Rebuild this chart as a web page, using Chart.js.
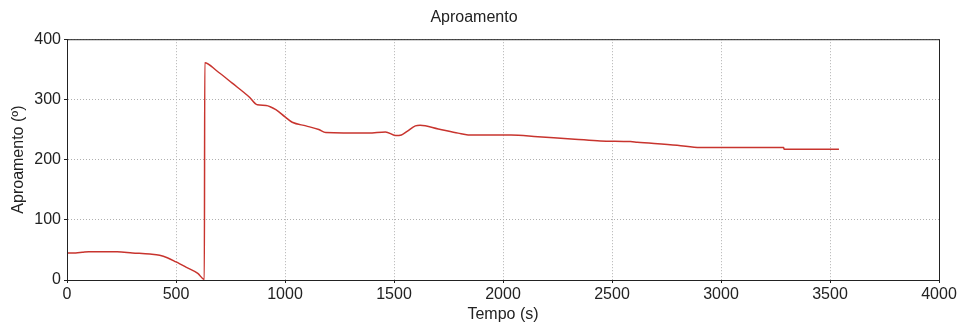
<!DOCTYPE html>
<html>
<head>
<meta charset="utf-8">
<script src="https://cdn.jsdelivr.net/npm/chart.js@4"></script>
<style>
  html, body { margin: 0; padding: 0; background: #fff; }
  #wrap { width: 960px; height: 329px; }
</style>
</head>
<body>
<div id="wrap"><canvas id="aproamento" width="960" height="329"></canvas></div>
<script>
// tempo (s) and aproamento (graus)
var tempo = [0, 40, 70, 100, 230, 300, 380, 425, 460, 500, 548, 600, 630, 632, 685, 758, 836, 873, 913, 958, 1000, 1033, 1096, 1155, 1187, 1383, 1461, 1507, 1534, 1560, 1598, 1620, 1703, 1794, 1840, 2037, 2160, 2329, 2447, 2584, 2616, 2799, 2904, 3287, 3290, 3541];
var aproamento = [45, 45, 46, 47, 47, 45, 43, 41, 37, 30, 21, 11, 1, 361, 348, 327, 304, 291, 290, 283, 271, 262, 256, 250, 245, 244, 246, 240, 241, 247, 256, 257, 251, 244, 241, 241, 238, 234, 231, 230, 229, 224, 220, 220, 217, 217];
var xTicks = [0, 500, 1000, 1500, 2000, 2500, 3000, 3500, 4000];
var yTicks = [0, 100, 200, 300, 400];

var pontos = tempo.map(function (t, i) {
  return { x: t, y: aproamento[i] };
});

// draw the top/right frame like matlab
var framePlugin = {
  id: "frame",
  afterDraw: function (chart) {
    var a = chart.chartArea;
    var ctx = chart.ctx;
    ctx.save();
    ctx.strokeStyle = "#222";
    ctx.lineWidth = 1;
    ctx.strokeRect(a.left + 0.5, a.top + 0.5, a.right - a.left, a.bottom - a.top);
    ctx.restore();
  },
};

var fonte = { family: "'Liberation Sans', Arial, sans-serif", size: 16 };

var ctx = document.getElementById("aproamento").getContext("2d");
var chart = new Chart(ctx, {
  type: "line",
  data: {
    datasets: [
      {
        label: "Aproamento",
        data: pontos,
        borderColor: "#c8342e",
        borderWidth: 1.5,
        pointRadius: 0,
        cubicInterpolationMode: "monotone",
        fill: false,
      },
    ],
  },
  options: {
    responsive: false,
    animation: false,
    layout: { padding: { left: 9, right: 21, top: 0, bottom: 5 } },
    plugins: {
      legend: { display: false },
      tooltip: { enabled: false },
      title: {
        display: true,
        text: "Aproamento",
        color: "#222",
        font: { family: fonte.family, size: 16, weight: "normal" },
        padding: { top: 8, bottom: 12 },
      },
    },
    scales: {
      x: {
        type: "linear",
        min: 0,
        max: 4000,
        afterBuildTicks: function (axis) {
          axis.ticks = xTicks.map(function (v) { return { value: v }; });
        },
        afterFit: function (axis) { axis.height = 44; },
        ticks: {
          color: "#222",
          font: fonte,
          padding: 2,
          maxRotation: 0,
          callback: function (v) { return String(v); },
        },
        grid: { color: "#b0b0b0", tickLength: 3, tickColor: "#222" },
        border: { display: true, color: "#222", dash: [1, 2] },
        title: { display: true, text: "Tempo (s)", color: "#222", font: fonte, padding: { top: 0, bottom: 0 } },
      },
      y: {
        type: "linear",
        min: 0,
        max: 400,
        afterBuildTicks: function (axis) {
          axis.ticks = yTicks.map(function (v) { return { value: v }; });
        },
        afterFit: function (axis) { axis.width = 58; },
        ticks: { color: "#222", font: fonte, padding: 3, callback: function (v) { return String(v); } },
        grid: { color: "#b0b0b0", tickLength: 3, tickColor: "#222" },
        border: { display: true, color: "#222", dash: [1, 2] },
        title: { display: true, text: "Aproamento (º)", color: "#222", font: fonte, padding: { top: 0, bottom: 2 } },
      },
    },
  },
  plugins: [framePlugin],
});
</script>
</body>
</html>
